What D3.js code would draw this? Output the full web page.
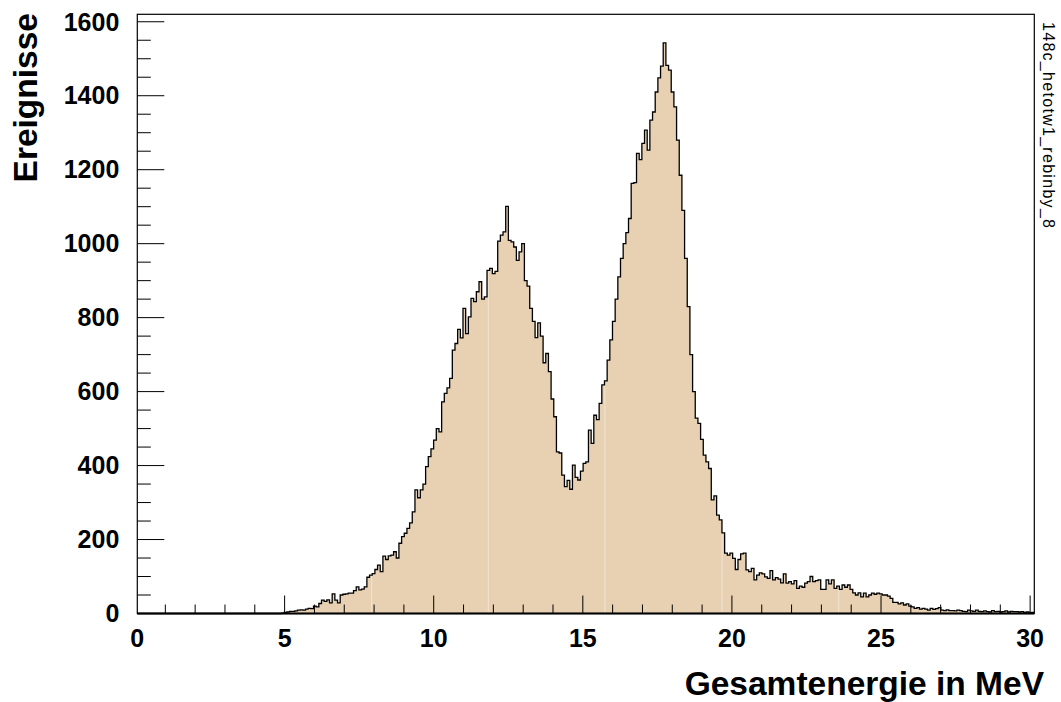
<!DOCTYPE html>
<html><head><meta charset="utf-8">
<script src="https://cdn.jsdelivr.net/npm/d3@7"></script>
<style>
body{margin:0;background:#fff;}
svg{display:block;}
text{font-family:"Liberation Sans",Arial,Helvetica,sans-serif;}
</style></head><body>
<svg id="c" width="1061" height="702"></svg>
<script>
// ---- data ----
const xMin = 0.06, xMax = 30.14;
const counts = [
0,0,0,0,0,0,0,0,0,0, 0,0,0,0,0,0,0,0,0,0, 0,0,0,0,0,0,0,0,0,0,
0,0,0,0,0,0,0,0,0,0, 0,0,0,0,0,0,0,0,0,0, 0,0,0,0,
1,3,4,6,6,7,9,10,9,12,14,13,20,18,27,36,33,37,29,53,36,29,50,52,53,55,55,62,72,64,66,72,98,104,108,119,131,113,155,146,156,158,167,150,
190,208,217,230,245,275,334,313,334,350,
397,424,445,469,500,491,572,595,610,636,
712,730,768,745,825,757,802,852,843,870,
897,850,856,928,933,919,925,1007,1023,1032,
1101,1009,1005,991,955,978,1000,900,885,825,
790,746,786,750,678,703,654,580,532,437,
434,374,343,360,336,401,368,361,385,406,
410,496,460,536,524,568,618,629,685,740,
790,850,910,960,1000,1030,
1068,1163,1165,1244,1227,1271,1307,1253,1334,1356,1410,1448,1480,1543,1482,1469,1410,1370,1280,1185,
1090,960,830,700,600,528,514,471,428,410,392,307,318,266,253,218,
163,158,163,149,119,146,161,163,118,113,122,91,104,110,107,99,95,116,91,97,93,83,107,82,86,80,89,68,74,71,82,86,100,86,89,91,65,65,91,80,91,68,74,65,77,71,77,65,56,50,56,45,55,45,50,55,
52,55,53,50,50,47,41,30,30,26,29,23,26,20,18,14,16,12,14,12,9,14,11,13,16,9,8,10,8,8,7,9,8,6,5,9,7,6,9,6,5,7,5,4,8,5,6,4,5,7,4,6,5,5,4,5,3,4,2,3
];
const xMajorTicks = [0,5,10,15,20,25,30];
const xMinorTicks = [1,2,3,4,6,7,8,9,11,12,13,14,16,17,18,19,21,22,23,24,26,27,28,29];
const yMajorTicks = [0,200,400,600,800,1000,1200,1400,1600];
const yMinorTicks = [50,100,150,250,300,350,450,500,550,650,700,750,850,900,950,1050,1100,1150,1250,1300,1350,1450,1500,1550];
const seams = [7.92, 11.83, 15.74, 19.67, 23.58, 27.49];
const xTitle = "Gesamtenergie in MeV";
const yTitle = "Ereignisse";
const histName = "148c_hetotw1_rebinby_8";

// ---- layout ----
const L = 137.3, R = 1034.3, T = 14.3, B = 613.5;
const svg = d3.select("#c");
svg.append("rect").attr("width",1061).attr("height",702).attr("fill","#fff");

const nb = counts.length;
const bw = (xMax - xMin) / nb;
const yMax = d3.max(counts) * 1.05;
const x = d3.scaleLinear().domain([xMin, xMax]).range([L, R]);
const y = d3.scaleLinear().domain([0, yMax]).range([B, T]);

const pts = counts.map((v,i)=>({e: xMin + i*bw, v}));
pts.push({e: xMax, v: counts[nb-1]});

const fillCol = "#e8d1b2";
svg.append("path")
  .attr("d", d3.area().curve(d3.curveStepAfter).x(d=>x(d.e)).y0(y(0)).y1(d=>y(d.v))(pts))
  .attr("fill", fillCol).attr("stroke","none");

// faint rendering seams in the fill
svg.append("g").selectAll("line").data(seams).join("line")
  .attr("x1", d=>x(d)).attr("x2", d=>x(d))
  .attr("y1", y(0)).attr("y2", d=>y(counts[Math.floor((d-xMin)/bw)]))
  .attr("stroke","#f2e4d2").attr("stroke-width",1);

svg.append("path")
  .attr("d", d3.line().curve(d3.curveStepAfter).x(d=>x(d.e)).y(d=>y(d.v))(pts))
  .attr("fill","none").attr("stroke","#000").attr("stroke-width",1.3);

// frame
svg.append("rect").attr("x",L).attr("y",T).attr("width",R-L).attr("height",B-T)
  .attr("fill","none").attr("stroke","#000").attr("stroke-width",1.2);
svg.append("line").attr("x1",L).attr("x2",R).attr("y1",B).attr("y2",B)
  .attr("stroke","#000").attr("stroke-width",2);

// x ticks
const g = svg.append("g").attr("stroke","#000").attr("stroke-width",1);
g.selectAll(".xM").data(xMajorTicks.filter(v=>x(v)>=L)).join("line")
  .attr("x1",d=>x(d)).attr("x2",d=>x(d)).attr("y1",B).attr("y2",B-18);
g.selectAll(".xm").data(xMinorTicks).join("line")
  .attr("x1",d=>x(d)).attr("x2",d=>x(d)).attr("y1",B).attr("y2",B-9);
// y ticks
g.selectAll(".yM").data(yMajorTicks).join("line")
  .attr("x1",L).attr("x2",L+27).attr("y1",d=>y(d)).attr("y2",d=>y(d));
g.selectAll(".ym").data(yMinorTicks).join("line")
  .attr("x1",L).attr("x2",L+13.5).attr("y1",d=>y(d)).attr("y2",d=>y(d));

// labels
svg.append("g").selectAll("text").data(xMajorTicks).join("text")
  .attr("x", d=>Math.max(x(d), L)).attr("y", B+16).attr("dy","0.71em")
  .attr("text-anchor","middle").attr("font-size",25).attr("font-weight","bold")
  .text(d=>d);
svg.append("g").selectAll("text").data(yMajorTicks).join("text")
  .attr("x", L-18).attr("y", d=>y(d)).attr("dy","0.35em")
  .attr("text-anchor","end").attr("font-size",25).attr("font-weight","bold")
  .text(d=>d);

svg.append("text").attr("x",1044).attr("y",695).attr("text-anchor","end")
  .attr("font-size",33.5).attr("font-weight","bold").text(xTitle);
svg.append("text").attr("transform","translate(37,13) rotate(-90)").attr("text-anchor","end")
  .attr("font-size",33.5).attr("font-weight","bold").text(yTitle);
svg.append("text").attr("transform","translate(1043,22) rotate(90)").attr("text-anchor","start")
  .attr("font-size",16).attr("textLength",206).attr("lengthAdjust","spacing").text(histName);
</script>
</body></html>
